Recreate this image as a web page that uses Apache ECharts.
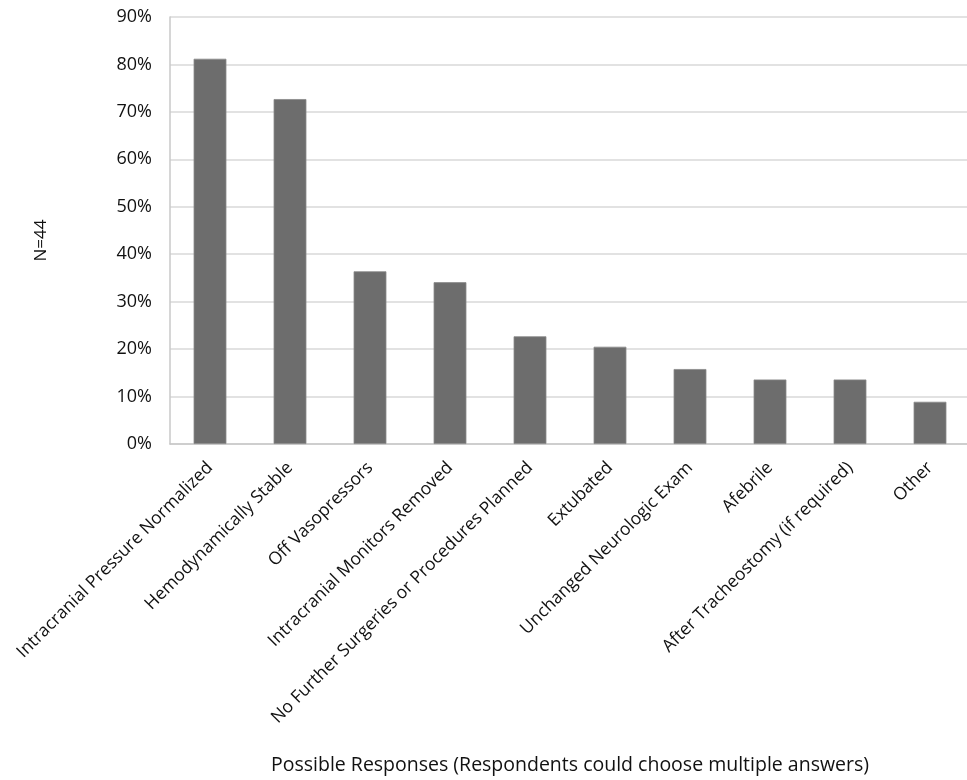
<!DOCTYPE html>
<html>
<head>
<meta charset="utf-8">
<script src="https://cdn.jsdelivr.net/npm/echarts@6/dist/echarts.min.js"></script>
<style>html,body{margin:0;padding:0;background:#fff}#c{width:967px;height:780px}</style>
</head>
<body>
<div id="c"></div>
<script>
const categories = [
  "Intracranial Pressure Normalized",
  "Hemodynamically Stable",
  "Off Vasopressors",
  "Intracranial Monitors Removed",
  "No Further Surgeries or Procedures Planned",
  "Extubated",
  "Unchanged Neurologic Exam",
  "Afebrile",
  "After Tracheostomy (if required)",
  "Other"
];
const values = [81.2, 72.7, 36.4, 34.1, 22.7, 20.5, 15.8, 13.6, 13.6, 8.9];
const yTicks = [0, 10, 20, 30, 40, 50, 60, 70, 80, 90];
const yAxisName = "N=44";
const xAxisName = "Possible Responses (Respondents could choose multiple answers)";

const font = "'Open Sans', 'Liberation Sans', sans-serif";
const chart = echarts.init(document.getElementById('c'), null, {renderer: 'canvas'});
chart.setOption({
  animation: false,
  backgroundColor: '#ffffff',
  grid: {left: 170, top: 17, width: 800, bottom: 336, containLabel: false, outerBoundsMode: 'none'},
  xAxis: {
    type: 'category',
    data: categories,
    axisLine: {show: true, lineStyle: {color: '#c8c8c8', width: 1.5}},
    axisTick: {show: false},
    axisLabel: {
      interval: 0, rotate: 45, fontFamily: font, fontSize: 17.5, color: '#111', margin: 21
    },
    name: xAxisName,
    nameLocation: 'middle',
    nameGap: 311,
    nameTextStyle: {fontFamily: font, fontSize: 19.5, color: '#111'}
  },
  yAxis: {
    type: 'value',
    min: yTicks[0],
    max: yTicks[yTicks.length - 1],
    interval: 10,
    axisLine: {show: true, lineStyle: {color: '#c8c8c8', width: 1.5}},
    axisTick: {show: false},
    splitLine: {show: true, lineStyle: {color: '#d9d9d9', width: 1.5}},
    axisLabel: {formatter: '{value}%', fontFamily: font, fontSize: 18, color: '#111', margin: 18},
    name: yAxisName,
    nameLocation: 'middle',
    nameGap: 120,
    nameRotate: 90,
    nameTextStyle: {fontFamily: font, fontSize: 17, color: '#111', padding: [0, 20, 0, 0]}
  },
  series: [{
    type: 'bar',
    data: values,
    barWidth: '41%',
    itemStyle: {color: '#6d6d6d', borderColor: '#8a8a8a', borderWidth: 0.8}
  }]
});
</script>
</body>
</html>
